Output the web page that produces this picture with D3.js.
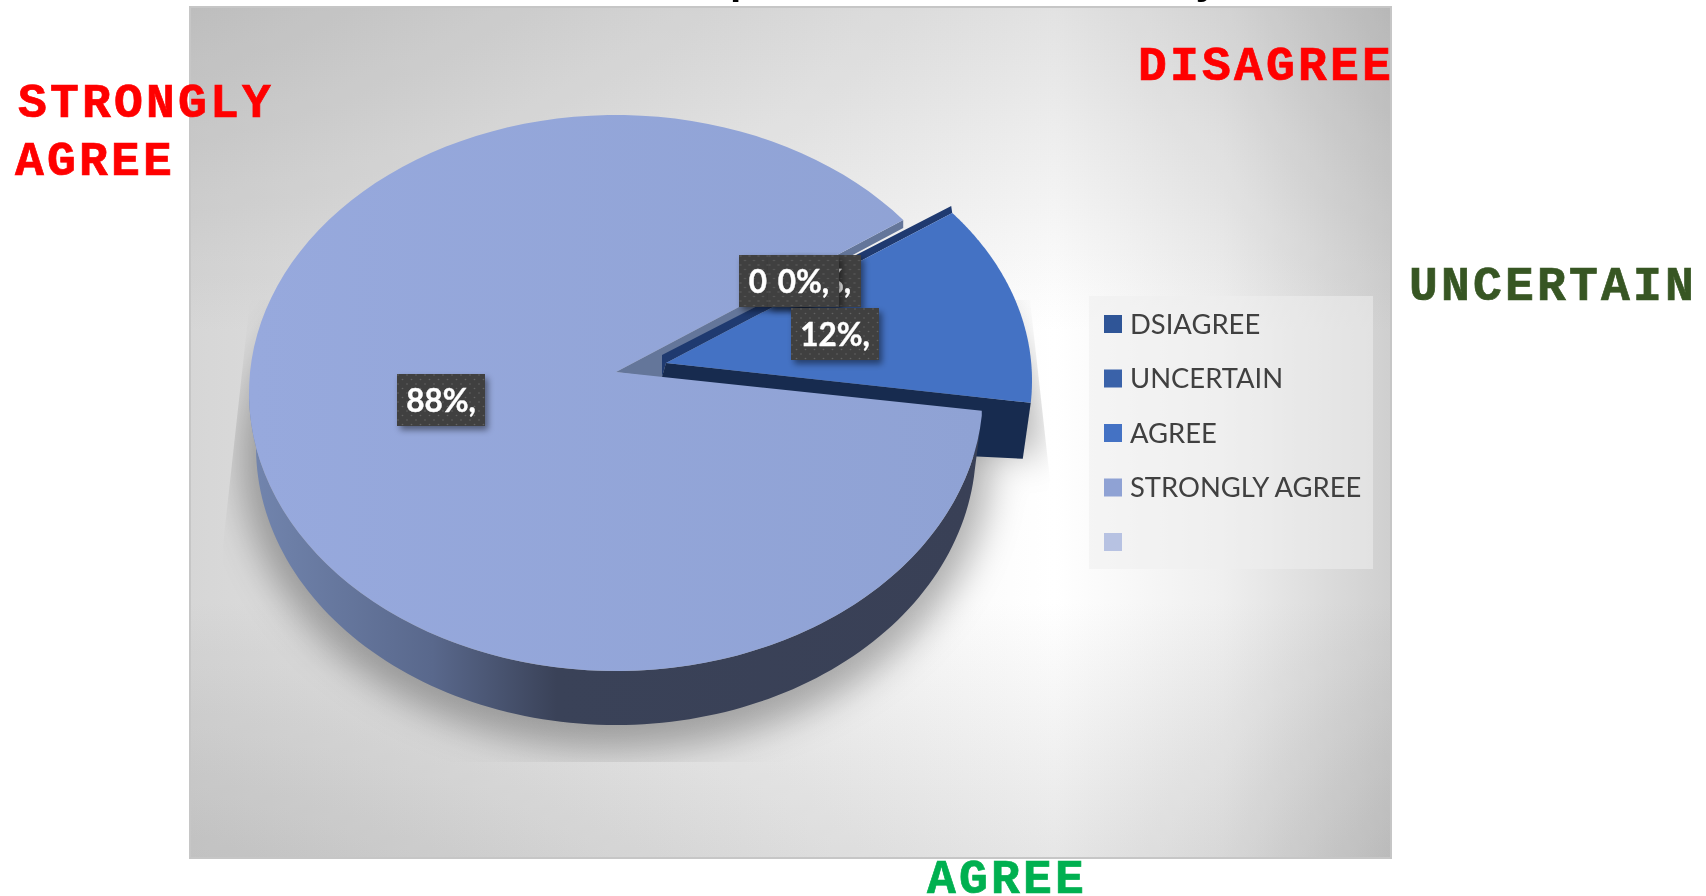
<!DOCTYPE html>
<html>
<head>
<meta charset="utf-8">
<script src="https://d3js.org/d3.v7.min.js"></script>
<style>
    html, body {margin: 0; padding: 0; background: #fff; overflow: hidden;}
    svg {display: block;}
</style>
</head>
<body>
<div id="chart"></div>
<script>
    // chart data
    var categories = ["DSIAGREE", "UNCERTAIN", "AGREE", "STRONGLY AGREE", ""]
    var values = [0, 0, 12, 88, 0]
    var legendColors = ["#2f5597", "#3a62a9", "#4472c4", "#8fa2d4", "#b7c2e2"]
    var sideLabels = ["STRONGLY", "AGREE", "DISAGREE", "UNCERTAIN", "AGREE"]
    var titleScraps = ["p", "y"]

    var width = 1706
    var height = 896

    // plot box
    var box = {x: 190, y: 7, w: 1201, h: 851}

    // top face ellipse of the pie, the apex sits above the ellipse centre (perspective)
    var cx = 616, cy = 393, rx = 367, ry = 278
    var apex = [616, 372]
    // bottom rim of the wall
    var wallCy = 447, wallRx = 360
    // how far the AGREE slice is pulled out
    var pullX = 49, pullY = -7

    var svg = d3.select("#chart").append("svg")
        .attr("width", width)
        .attr("height", height)

    var defs = svg.append("defs")

    // background is two linear ramps multiplied, that gives the rectangular look
    var bgH = defs.append("linearGradient").attr("id", "bgH")
    bgH.append("stop").attr("offset", "0").attr("stop-color", "#d6d6d6")
    bgH.append("stop").attr("offset", "0.35").attr("stop-color", "#ebebeb")
    bgH.append("stop").attr("offset", "0.72").attr("stop-color", "#ffffff")
    bgH.append("stop").attr("offset", "0.86").attr("stop-color", "#efefef")
    bgH.append("stop").attr("offset", "1").attr("stop-color", "#cfcfcf")

    var bgV = defs.append("linearGradient").attr("id", "bgV")
        .attr("x1", 0).attr("x2", 0).attr("y1", 0).attr("y2", 1)
    bgV.append("stop").attr("offset", "0").attr("stop-color", "#e2e2e2")
    bgV.append("stop").attr("offset", "0.38").attr("stop-color", "#ffffff")
    bgV.append("stop").attr("offset", "0.7").attr("stop-color", "#ffffff")
    bgV.append("stop").attr("offset", "1").attr("stop-color", "#e6e6e6")

    var wallGrad = defs.append("linearGradient").attr("id", "wallGrad")
        .attr("gradientUnits", "userSpaceOnUse")
        .attr("x1", 250).attr("x2", 980).attr("y1", 0).attr("y2", 0)
    wallGrad.append("stop").attr("offset", "0").attr("stop-color", "#7285ae")
    wallGrad.append("stop").attr("offset", "0.25").attr("stop-color", "#59688c")
    wallGrad.append("stop").attr("offset", "0.42").attr("stop-color", "#3a4258")
    wallGrad.append("stop").attr("offset", "1").attr("stop-color", "#394056")

    var faceGrad = defs.append("linearGradient").attr("id", "faceGrad")
        .attr("gradientUnits", "userSpaceOnUse")
        .attr("x1", 250).attr("x2", 980).attr("y1", 0).attr("y2", 0)
    faceGrad.append("stop").attr("offset", "0").attr("stop-color", "#97a9dd")
    faceGrad.append("stop").attr("offset", "1").attr("stop-color", "#8fa2d4")

    var blur = defs.append("filter").attr("id", "softBlur")
        .attr("x", "-20%").attr("y", "-20%").attr("width", "140%").attr("height", "140%")
    blur.append("feGaussianBlur").attr("stdDeviation", 18)

    var labelShadow = defs.append("filter").attr("id", "labelShadow")
        .attr("x", "-20%").attr("y", "-20%").attr("width", "150%").attr("height", "150%")
    labelShadow.append("feDropShadow")
        .attr("dx", 3).attr("dy", 4).attr("stdDeviation", 3)
        .attr("flood-color", "#000").attr("flood-opacity", 0.45)

    var dots = defs.append("pattern").attr("id", "dots")
        .attr("width", 9).attr("height", 9).attr("patternUnits", "userSpaceOnUse")
    dots.append("rect").attr("width", 9).attr("height", 9).attr("fill", "#404040")
    dots.append("circle").attr("cx", 2).attr("cy", 2).attr("r", 0.8).attr("fill", "#626262")
    dots.append("circle").attr("cx", 6.5).attr("cy", 6.5).attr("r", 0.8).attr("fill", "#626262")

    defs.append("clipPath").attr("id", "shadowClip")
        .append("polygon")
        .attr("points", "250,300 223,545 223,762 1000,762 1050,480 1030,300")

    // background
    svg.append("rect")
        .attr("x", box.x).attr("y", box.y)
        .attr("width", box.w).attr("height", box.h)
        .attr("fill", "url(#bgH)")
    svg.append("rect")
        .attr("x", box.x).attr("y", box.y)
        .attr("width", box.w).attr("height", box.h)
        .attr("fill", "url(#bgV)")
        .style("mix-blend-mode", "multiply")
    svg.append("rect")
        .attr("x", box.x).attr("y", box.y)
        .attr("width", box.w).attr("height", box.h)
        .attr("fill", "none")
        .attr("stroke", "#c6c6c6")
        .attr("stroke-width", 2)

    // pie angles, first slice starts up right
    var startAngle = 51.5 * Math.PI / 180
    var pie = d3.pie().sort(null).value(function(d) { return d })
        .startAngle(startAngle).endAngle(startAngle + 2 * Math.PI)
    var slices = pie(values)
    var agree = slices[2]
    var strong = slices[3]

    function rim(a, y0, rxx) {
        return [cx + rxx * Math.sin(a), y0 - ry * Math.cos(a)]
    }
    function rimPoints(a0, a1, y0, rxx) {
        var n = 120
        return d3.range(n + 1).map(function(i) {
            return rim(a0 + (a1 - a0) * i / n, y0, rxx)
        })
    }
    function shift(p, dx, dy) { return [p[0] + dx, p[1] + dy] }

    var line = d3.line()
    function closed(points) { return line(points) + "Z" }

    var agreeApex = shift(apex, pullX + 1, -9)
    var agreeStart = shift(rim(agree.startAngle, cy, rx), pullX, pullY)
    var agreeEnd = shift(rim(agree.endAngle, cy, rx), pullX, pullY - 6)
    var strongStart = rim(strong.endAngle, cy, rx)

    // soft shadow under the pie
    var shadow = svg.append("g").attr("clip-path", "url(#shadowClip)")
        .append("g").attr("filter", "url(#softBlur)")
    shadow.append("ellipse")
        .attr("cx", cx).attr("cy", wallCy + 12)
        .attr("rx", wallRx + 14).attr("ry", ry + 12)
        .attr("fill", "#000").attr("opacity", 0.3)
    shadow.append("path")
        .attr("d", closed([agreeApex].concat(
            rimPoints(agree.startAngle, agree.endAngle, cy, rx).map(function(p) { return shift(p, pullX + 6, pullY + 50) }))))
        .attr("fill", "#000").attr("opacity", 0.3)

    // cut wall of the big slice, behind the pulled out one
    svg.append("path")
        .attr("d", closed([apex, strongStart, shift(strongStart, 0, 8), [662, 357], [662, 378]]))
        .attr("fill", "#64769a")

    // AGREE slice walls and top face
    svg.append("path")
        .attr("d", closed([[662, 377], agreeApex, agreeEnd, shift(agreeEnd, -8, 56), shift(agreeEnd, -130, 50), [662, 434]]))
        .attr("fill", "#172b4f")
    svg.append("path")
        .attr("d", closed([shift(agreeStart, -1, -7), [662, 355], [662, 377], agreeApex, agreeStart]))
        .attr("fill", "#1f3a70")
    svg.append("path")
        .attr("d", closed([agreeApex].concat(rimPoints(agree.startAngle, agree.endAngle, cy, rx).map(function(p, i, arr) {
            return shift(p, pullX, pullY - 6 * i / (arr.length - 1))
        }))))
        .attr("fill", legendColors[2])

    // front wall of STRONGLY AGREE
    var wallFrom = Math.PI * 1.5
    var wallTop = rimPoints(strong.startAngle, wallFrom + 0.02, cy, rx)
    var wallBottom = rimPoints(wallFrom + 0.02, strong.startAngle, wallCy, wallRx)
    svg.append("path")
        .attr("d", closed(wallTop.concat(wallBottom)))
        .attr("fill", "url(#wallGrad)")

    // top face of STRONGLY AGREE
    var cutEnd = shift(rim(strong.startAngle, cy, rx), 0, -5)
    svg.append("path")
        .attr("d", closed([apex, cutEnd].concat(rimPoints(strong.startAngle, strong.endAngle, cy, rx))))
        .attr("fill", "url(#faceGrad)")

    // legend
    var legendBox = {x: 1089, y: 296, w: 284, h: 273}
    svg.append("rect")
        .attr("x", legendBox.x).attr("y", legendBox.y)
        .attr("width", legendBox.w).attr("height", legendBox.h)
        .attr("fill", "#efefef").attr("opacity", 0.55)

    var legendY = d3.scalePoint().domain(d3.range(categories.length)).range([324, 542])

    var legend = svg.selectAll("g.legend").data(categories).enter().append("g")
        .attr("class", "legend")
        .attr("transform", function(d, i) { return "translate(1104," + legendY(i) + ")" })
    legend.append("rect")
        .attr("y", -9).attr("width", 18).attr("height", 18)
        .attr("fill", function(d, i) { return legendColors[i] })
    legend.append("text")
        .attr("x", 26).attr("y", 9.5)
        .attr("font-family", "Lato")
        .attr("font-size", 27.4)
        .attr("fill", "#404040")
        .text(function(d) { return d })

    // data labels, back to front: the zero slices all land on top of each other
    var labelSpots = [
        {i: 0, x: 774.5, y: 281},
        {i: 4, x: 825.5, y: 281},
        {i: 1, x: 803.5, y: 281},
        {i: 2, x: 835, y: 334},
        {i: 3, x: 441, y: 400}
    ]
    var labels = svg.selectAll("g.datalabel").data(labelSpots).enter().append("g")
        .attr("class", "datalabel")
        .attr("transform", function(d) { return "translate(" + d.x + "," + d.y + ")" })
    function labelWidth(d) { return slices[d.i].value == 0 ? 71 : 88 }
    labels.append("rect")
        .attr("x", function(d) { return -labelWidth(d) / 2 })
        .attr("y", -26)
        .attr("width", labelWidth)
        .attr("height", 52)
        .attr("fill", "url(#dots)")
        .attr("filter", "url(#labelShadow)")
    labels.append("text")
        .attr("text-anchor", "middle")
        .attr("y", 12)
        .attr("font-family", "Lato")
        .attr("font-weight", 700)
        .attr("font-size", 31.5)
        .attr("fill", "#fff")
        .attr("stroke", "#fff")
        .attr("stroke-width", 0.4)
        .text(function(d) { return slices[d.i].value + "%," })

    // hand typed labels round the chart
    var sideSpots = [
        {x: 18, y: 117, fill: "#ff0000"},
        {x: 15, y: 175, fill: "#ff0000"},
        {x: 1138, y: 80, fill: "#ff0000"},
        {x: 1409, y: 300, fill: "#375623"},
        {x: 927, y: 893, fill: "#00b050"}
    ]
    svg.selectAll("text.side").data(sideLabels).enter().append("text")
        .attr("class", "side")
        .attr("x", function(d, i) { return sideSpots[i].x })
        .attr("y", function(d, i) { return sideSpots[i].y })
        .attr("font-family", "Liberation Mono")
        .attr("font-weight", 700)
        .attr("font-size", 48)
        .attr("letter-spacing", 3.2)
        .attr("stroke", function(d, i) { return sideSpots[i].fill })
        .attr("stroke-width", 0.7)
        .attr("fill", function(d, i) { return sideSpots[i].fill })
        .text(function(d) { return d })

    // bits of the cropped off title at the very top
    svg.selectAll("text.scrap").data(titleScraps).enter().append("text")
        .attr("class", "scrap")
        .attr("x", function(d, i) { return i == 0 ? 730 : 1195 })
        .attr("y", -6)
        .attr("font-family", "Liberation Mono")
        .attr("font-weight", 700)
        .attr("font-size", 40)
        .attr("fill", "#000")
        .text(function(d) { return d })
</script>
</body>
</html>
